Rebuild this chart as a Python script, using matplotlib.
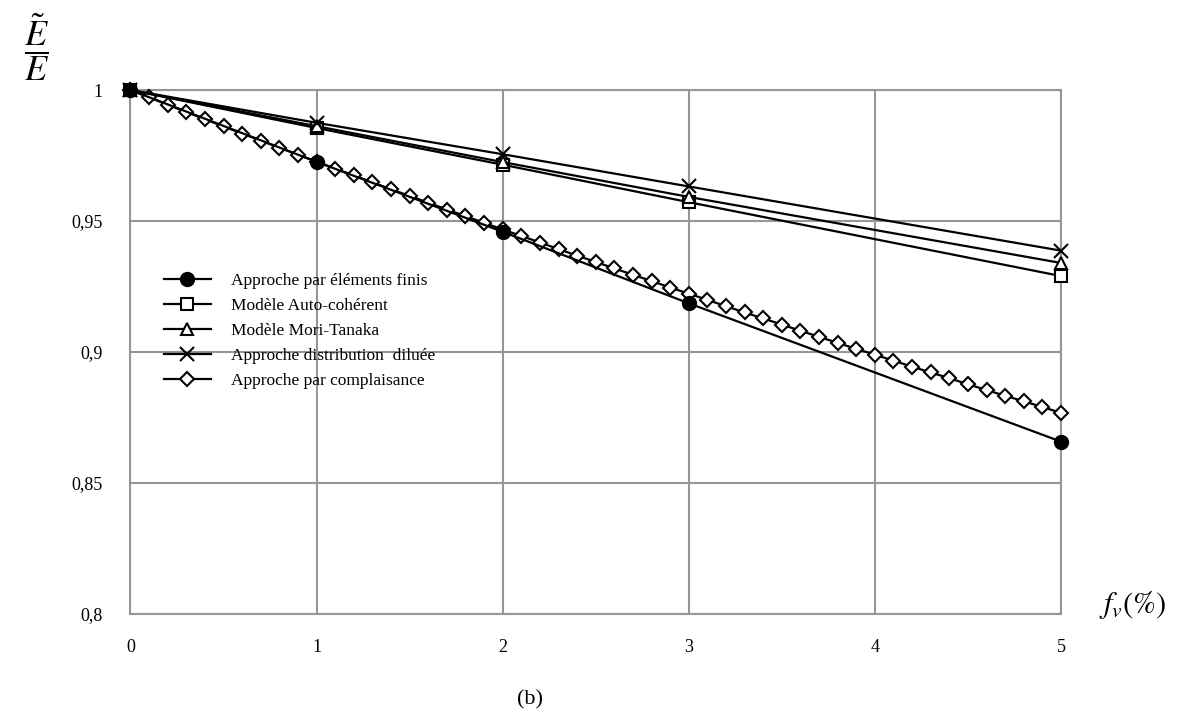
import numpy as np
import matplotlib.pyplot as plt

plt.rcParams['font.family'] = ['Liberation Serif', 'DejaVu Serif']
plt.rcParams['mathtext.fontset'] = 'stix'

# fraction volumique (%)
fv = [0, 1, 2, 3, 5]
elements_finis = [1.0, 0.9726, 0.9459, 0.9186, 0.8658]
auto_coherent = [1.0, 0.9855, 0.9715, 0.9572, 0.9290]
mori_tanaka = [1.0, 0.9862, 0.9725, 0.9592, 0.9340]
dilue = [1.0, 0.9875, 0.9755, 0.9632, 0.9387]

fv_compl = [round(0.1 * i, 1) for i in range(51)]
complaisance = [1.0000, 0.9972, 0.9944, 0.9916, 0.9889, 0.9861, 0.9834, 0.9807, 0.9780, 0.9753,
                0.9727, 0.9700, 0.9674, 0.9648, 0.9621, 0.9596, 0.9570, 0.9544, 0.9519, 0.9493,
                0.9468, 0.9443, 0.9418, 0.9393, 0.9368, 0.9344, 0.9319, 0.9295, 0.9271, 0.9246,
                0.9223, 0.9199, 0.9175, 0.9151, 0.9128, 0.9105, 0.9081, 0.9058, 0.9035, 0.9012,
                0.8990, 0.8967, 0.8944, 0.8922, 0.8900, 0.8877, 0.8855, 0.8833, 0.8812, 0.8790,
                0.8768]

xticks = [0, 1, 2, 3, 4, 5]
yticks = [0.8, 0.85, 0.9, 0.95, 1.0]
ytick_labels = ['0,8', '0,85', '0,9', '0,95', '1']

fig = plt.figure(figsize=(11.86, 7.18), dpi=100)
ax = fig.add_axes([0.110, 0.1448, 0.7846, 0.7298])

grey = '#969696'
lw = 1.6
ax.plot(fv, elements_finis, color='black', lw=lw, marker='o', ms=10,
        mfc='black', mec='black', label='Approche par éléments finis', zorder=5, clip_on=False)
ax.plot(fv, auto_coherent, color='black', lw=lw, marker='s', ms=9,
        mfc='white', mec='black', mew=1.5, label='Modèle Auto-cohérent', zorder=4, clip_on=False)
ax.plot(fv, mori_tanaka, color='black', lw=lw, marker='^', ms=9,
        mfc='white', mec='black', mew=1.5, label='Modèle Mori-Tanaka', zorder=4, clip_on=False)
ax.plot(fv, dilue, color='black', lw=lw, marker='x', ms=10,
        mec='black', mew=1.5, label='Approche distribution  diluée', zorder=4, clip_on=False)
ax.plot(fv_compl, complaisance, color='black', lw=lw, marker='D', ms=7.5,
        mfc='white', mec='black', mew=1.5, label='Approche par complaisance', zorder=3, clip_on=False)

ax.set_xlim(0, 5)
ax.set_ylim(0.8, 1.0)
ax.set_xticks(xticks)
ax.set_yticks(yticks)
ax.set_yticklabels(ytick_labels)
ax.tick_params(length=0, labelsize=13)
ax.tick_params(axis='x', pad=18)
ax.tick_params(axis='y', pad=20)
ax.grid(True, color=grey, lw=1.5)
for s in ax.spines.values():
    s.set_color(grey)
    s.set_linewidth(1.5)
ax.set_axisbelow(True)

leg = ax.legend(loc='center left', bbox_to_anchor=(0.019, 0.54), frameon=False,
                fontsize=12.5, handlelength=2.7, handletextpad=1.2, labelspacing=0.5)
for h in leg.legend_handles:
    h.set_clip_on(False)

fig.text(0.02, 0.935, r'$\dfrac{\tilde{E}}{E}$', fontsize=26, ha='left', va='center')
fig.text(0.927, 0.158, r'$f_v\mathit{(\%)}$', fontsize=22, ha='left', va='center')
fig.text(0.447, 0.025, '(b)', fontsize=16, ha='center', va='center')

fig.savefig('out.png', dpi=100)
